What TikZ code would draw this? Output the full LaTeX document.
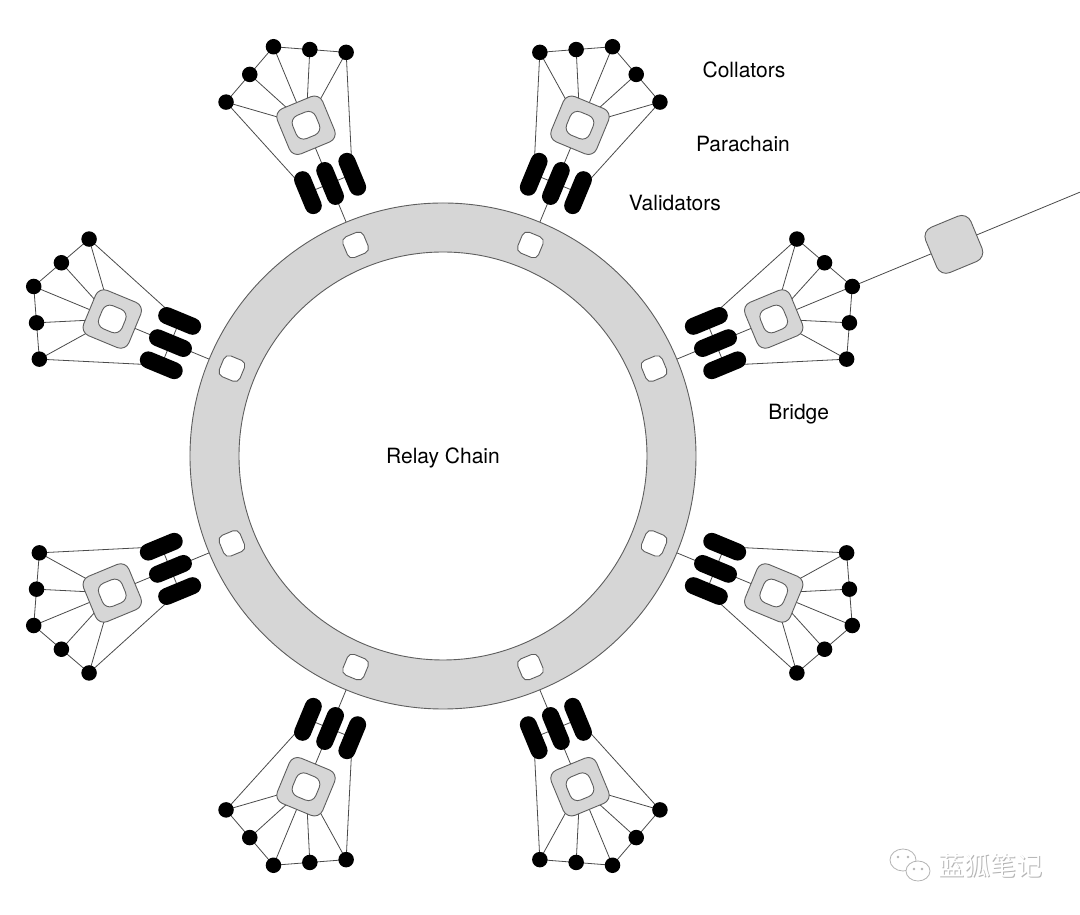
\documentclass[tikz,border=0pt]{standalone}
\usepackage{fontspec}
\setmainfont{TeX Gyre Heros}
\newfontfamily\cjkfont{Noto Sans CJK SC}
\usetikzlibrary{backgrounds}
\definecolor{ringgray}{HTML}{D6D6D6}
\definecolor{edgegray}{HTML}{5E5E5E}
\definecolor{linegray}{HTML}{4A4A4A}
\definecolor{wmgray}{HTML}{B4B4B4}
\begin{document}
\begin{tikzpicture}[x=1pt,y=1pt,
  link/.style={draw=linegray, line width=0.8pt},
  chainsq/.style={draw=edgegray, line width=0.9pt, fill=ringgray, rounded corners=9pt, minimum size=49pt, inner sep=0pt},
  holesq/.style={draw=edgegray, line width=0.9pt, fill=white, rounded corners=8pt, minimum size=25pt, inner sep=0pt},
  slot/.style={draw=edgegray, line width=0.9pt, fill=white, rounded corners=5.5pt, minimum size=22.5pt, inner sep=0pt},
  validator/.style={fill=black, rounded corners=8.4pt, minimum width=45pt, minimum height=17pt, inner sep=0pt},
  collator/.style={circle, fill=black, minimum size=15.5pt, inner sep=0pt},
  txt/.style={font=\fontsize{21}{25}\selectfont, anchor=base, text=black, inner sep=0pt},
]
\useasboundingbox (-443,456) rectangle (637,-459);

% relay chain ring
\path[fill=ringgray, draw=edgegray, line width=0.9pt, even odd rule]
  (0,0) circle[radius=253] (0,0) circle[radius=204];

% parachains
\foreach \k [evaluate=\k as \a using 22.5+45*\k] in {0,...,7} {
  \begin{scope}[rotate=\a, transform shape]
    \node[slot] (r\k) at (228.5,0) {};
    \node[validator] (b\k-1) at (295,24) {};
    \node[validator] (b\k-2) at (295,0) {};
    \node[validator] (b\k-3) at (295,-24) {};
    \node[chainsq] (sq\k) at (358,0) {};
    \node[holesq] (h\k) at (358,0) {};
    \node[collator] (d\k-1) at (410,65) {};
    \node[collator] (d\k-2) at (426.5,32.5) {};
    \node[collator] (d\k-3) at (443,0) {};
    \node[collator] (d\k-4) at (426.5,-32.5) {};
    \node[collator] (d\k-5) at (410,-65) {};
  \end{scope}
}

% bridge
\node[chainsq, rounded corners=10pt, rotate=22.5] (bridge) at (22.5:553) {};
\coordinate (bridgeend) at (22.5:689.5);

% connectors
\begin{pgfonlayer}{background}
  \fill[white] (-443,456) rectangle (637,-459);
  \foreach \k in {0,...,7} {
    \draw[link] (d\k-1.center) -- (d\k-2.center) -- (d\k-3.center) -- (d\k-4.center) -- (d\k-5.center);
    \foreach \j in {1,...,5} { \draw[link] (d\k-\j.center) -- (sq\k.center); }
    \draw[link] (d\k-1.center) -- (b\k-1.center);
    \draw[link] (d\k-5.center) -- (b\k-3.center);
    \draw[link] (sq\k.center) -- (r\k.center);
    \draw[link] (b\k-1.center) -- (b\k-3.center);
  }
  \draw[link] (d0-3.center) -- (bridgeend);
\end{pgfonlayer}

% labels
\node[txt] (collators) at (301,378.5) {Collators};
\node[txt] (parachain) at (300,304.3) {Parachain};
\node[txt] (validators) at (232,245.3) {Validators};
\node[txt] (bridgelabel) at (355.7,36) {Bridge};
\node[txt] (relay) at (0,-7.3) {Relay Chain};

% watermark
\draw[wmgray, fill=white, line width=0.8pt] (460,-404) ellipse[x radius=13, y radius=11];
\draw[wmgray, fill=white, line width=0.8pt] (475,-415) ellipse[x radius=12, y radius=10];
\fill[wmgray] (455,-401) circle[radius=1.3] (465,-401) circle[radius=1.3]
              (471,-413) circle[radius=1.3] (479,-413) circle[radius=1.3];
\node[font=\cjkfont\fontsize{26}{26}\selectfont, text=wmgray, inner sep=0pt] at (548.6,-410.6) {蓝狐笔记};
\node[font=\cjkfont\fontsize{26}{26}\selectfont, text=white, inner sep=0pt] (wm) at (547.5,-409.5) {蓝狐笔记};
\end{tikzpicture}
\end{document}
